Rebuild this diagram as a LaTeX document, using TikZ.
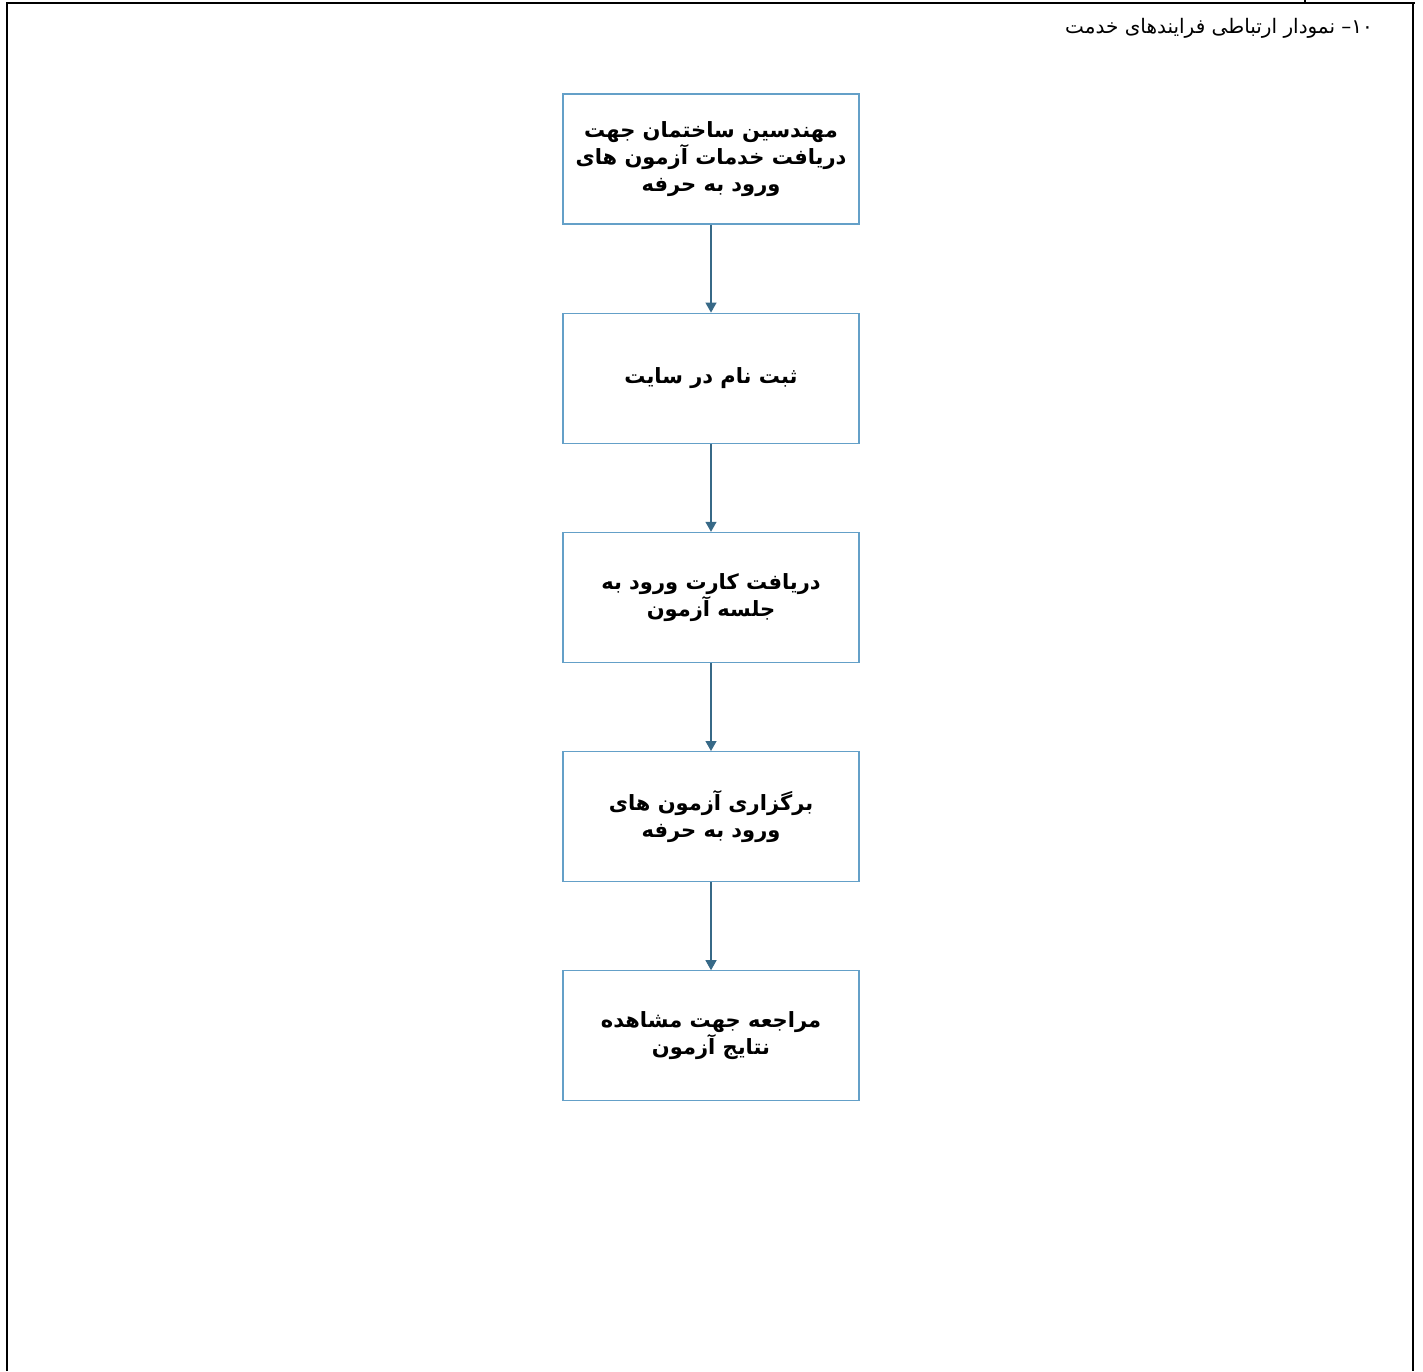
\documentclass[tikz,border=0pt]{standalone}
\usepackage{fontspec}
\usepackage{tikz}
\usetikzlibrary{positioning}
\usetikzlibrary{arrows.meta}
\TeXXeTstate=1
\newfontfamily\arabicfont[Script=Arabic]{DejaVu Sans}
\definecolor{boxblue}{RGB}{100,160,200}
\definecolor{arrowteal}{RGB}{55,105,135}

\begin{document}
\begin{tikzpicture}[x=0.5pt,y=-0.5pt,
  stepbox/.style={draw=boxblue,line width=0.6pt,fill=white,minimum width=148pt,
    minimum height=65pt,align=center,font=\arabicfont\bfseries\fontsize{10.5}{13.5}\selectfont},
  flow/.style={draw=arrowteal,line width=0.6pt,-{Triangle[length=5pt,width=5.5pt]}},
  node distance=44pt]
\useasboundingbox (0,0) rectangle (1423,1371);

% frame
\draw[line width=1.2pt] (7,1371) -- (7,3) -- (1415,3);
\draw[line width=1.2pt] (1413,3) -- (1413,1371);
\draw[line width=0.8pt] (1305,0) -- (1305,3);

\node[anchor=east,font=\arabicfont\fontsize{10}{12}\selectfont] (title) at (1380,28)
  {\beginR ۱۰– نمودار ارتباطی فرایندهای خدمت\endR};

\node[stepbox] (s1) at (711,159) {\beginR مهندسین ساختمان جهت\endR\\
  \beginR دریافت خدمات آزمون های\endR\\ \beginR ورود به حرفه\endR};
\node[stepbox,below=of s1] (s2) {\beginR ثبت نام در سایت\endR};
\node[stepbox,below=of s2] (s3) {\beginR دریافت کارت ورود به\endR\\
  \beginR جلسه آزمون\endR};
\node[stepbox,below=of s3] (s4) {\beginR برگزاری آزمون های\endR\\
  \beginR ورود به حرفه\endR};
\node[stepbox,below=of s4] (s5) {\beginR مراجعه جهت مشاهده\endR\\
  \beginR نتایج آزمون\endR};

\draw[flow] (s1) -- (s2);
\draw[flow] (s2) -- (s3);
\draw[flow] (s3) -- (s4);
\draw[flow] (s4) -- (s5);
\end{tikzpicture}
\end{document}
